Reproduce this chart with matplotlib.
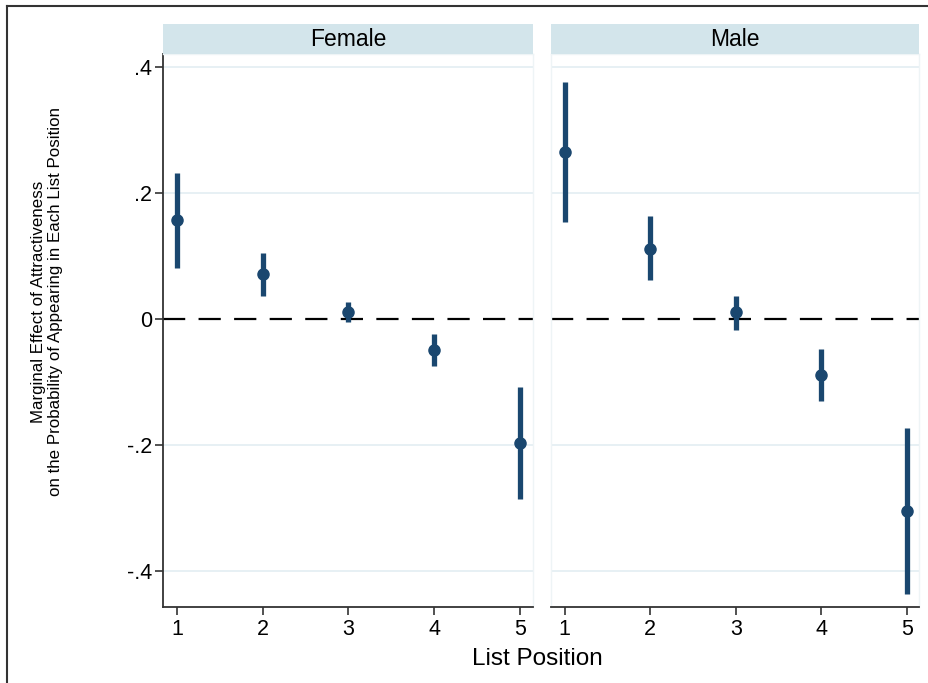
import matplotlib
matplotlib.use("Agg")
import matplotlib.pyplot as plt
from matplotlib.lines import Line2D

plt.rcParams['font.family'] = ['Liberation Sans', 'DejaVu Sans']

positions = [1, 2, 3, 4, 5]
panels = ["Female", "Male"]

female_est = [0.157, 0.072, 0.011, -0.048, -0.196]
female_lo = [0.082, 0.037, -0.005, -0.074, -0.285]
female_hi = [0.232, 0.106, 0.028, -0.023, -0.108]

male_est = [0.265, 0.112, 0.011, -0.088, -0.304]
male_lo = [0.154, 0.062, -0.017, -0.129, -0.436]
male_hi = [0.377, 0.164, 0.037, -0.047, -0.173]

yticks = [-0.4, -0.2, 0, 0.2, 0.4]
ytick_labels = ["-.4", "-.2", "0", ".2", ".4"]

data = {
    "Female": (female_est, female_lo, female_hi),
    "Male": (male_est, male_lo, male_hi),
}

navy = '#1a476f'
grid_c = '#e3eef2'
strip_c = '#d3e5eb'

W, H = 929, 683
fig = plt.figure(figsize=(W / 100, H / 100), dpi=100)

ax_bottom = 1 - 606.7 / H
ax_top = 1 - 54 / H
lefts = [163.3 / W, 551 / W]
widths = [(532.7 - 163.3) / W, (919.5 - 551) / W]

for i, name in enumerate(panels):
    ax = fig.add_axes([lefts[i], ax_bottom, widths[i], ax_top - ax_bottom])
    est, lo, hi = data[name]
    ax.set_xlim(0.84, 5.15)
    ax.set_ylim(-0.456, 0.421)
    for y in yticks:
        if y != 0:
            ax.axhline(y, color=grid_c, lw=1.2, zorder=0)
    ax.axhline(0, color='black', lw=1.6, dashes=(10, 6), zorder=1)
    ax.vlines(positions, lo, hi, color=navy, lw=3.8, zorder=2)
    ax.plot(positions, est, 'o', color=navy, ms=8, zorder=3)
    ax.set_xticks(positions)
    ax.set_xticklabels([str(p) for p in positions], fontsize=15.5)
    ax.tick_params(axis='x', length=6, width=1.2, color='#333333', pad=3)
    ax.set_yticks(yticks)
    for s in ['top', 'right']:
        ax.spines[s].set_color('#eef4f6')
        ax.spines[s].set_linewidth(1)
    ax.spines['bottom'].set_color('#333333')
    ax.spines['bottom'].set_linewidth(1.3)
    if i == 0:
        ax.set_yticklabels(ytick_labels, fontsize=15.5)
        ax.spines['left'].set_color('#333333')
        ax.spines['left'].set_linewidth(1.3)
        ax.tick_params(axis='y', length=6, width=1.2, color='#333333', pad=2)
    else:
        ax.set_yticklabels([])
        ax.tick_params(axis='y', length=0)
        ax.spines['left'].set_color('#eef4f6')
        ax.spines['left'].set_linewidth(1)
    # strip header
    sax = fig.add_axes([lefts[i], ax_top, widths[i], 30 / H])
    sax.set_facecolor(strip_c)
    sax.set_xticks([])
    sax.set_yticks([])
    for s in sax.spines.values():
        s.set_visible(False)
    sax.text(0.5, 0.5, name, ha='center', va='center', fontsize=16.5,
             transform=sax.transAxes)

fig.text(47 / W, 1 - 302 / H,
         "Marginal Effect of Attractiveness\non the Probability of Appearing in Each List Position",
         rotation=90, ha='center', va='center', fontsize=12.2, linespacing=1.2)
fig.text(537 / W, 1 - 659 / H, "List Position", ha='center', va='center', fontsize=17.5)

# outer frame (top and left edges)
fig.add_artist(Line2D([7 / W, 7 / W], [0, 1 - 6 / H], color='#333333', lw=1.5,
                      transform=fig.transFigure))
fig.add_artist(Line2D([7 / W, 1], [1 - 6 / H, 1 - 6 / H], color='#333333', lw=1.5,
                      transform=fig.transFigure))

fig.savefig("out.png", dpi=100)
